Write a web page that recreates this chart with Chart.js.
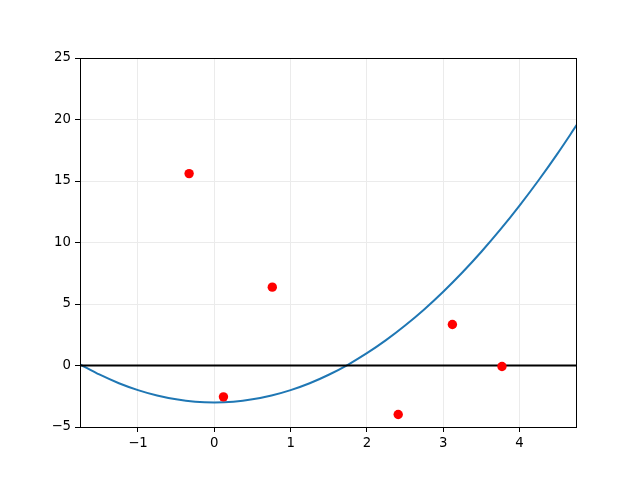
<!DOCTYPE html>
<html>
<head>
<meta charset="utf-8">
<script src="https://cdn.jsdelivr.net/npm/chart.js@4/dist/chart.umd.min.js"></script>
<style>
  html, body { margin: 0; padding: 0; background: #fff; }
  #wrap { width: 640px; height: 480px; }
</style>
</head>
<body>
<div id="wrap"><canvas id="chart" width="640" height="480"></canvas></div>
<script>
// Curve
const curveX = [-1.76, -1.5, -1.25, -1.0, -0.75, -0.5, -0.25, 0, 0.25, 0.5, 0.75, 1.0, 1.25,
                1.5, 1.75, 2.0, 2.25, 2.5, 2.75, 3.0, 3.25, 3.5, 3.75, 4.0, 4.25, 4.5, 4.75];
const curveY = [0.10, -0.75, -1.44, -2.0, -2.44, -2.75, -2.94, -3.0, -2.94, -2.75, -2.44, -2.0, -1.44,
                -0.75, 0.06, 1.0, 2.06, 3.25, 4.56, 6.0, 7.56, 9.25, 11.06, 13.0, 15.06, 17.25, 19.56];

// Red scatter points
const pointsX = [-0.33, 0.12, 0.76, 2.41, 3.12, 3.77];
const pointsY = [15.6, -2.55, 6.37, -3.98, 3.33, -0.08];

// Axis limits and ticks
const xMin = -1.76, xMax = 4.74;
const yMin = -5, yMax = 25;
const xTickValues = [-1, 0, 1, 2, 3, 4];
const yTickValues = [-5, 0, 5, 10, 15, 20, 25];
const zeroLineY = 0;

const fmt = v => (v < 0 ? '\u2212' + Math.abs(v) : String(v));

// Full box around the plot area, like matplotlib spines
const frame = {
    id: 'frame',
    afterDraw(chart) {
        const { ctx, chartArea: a } = chart;
        ctx.save();
        ctx.strokeStyle = '#000';
        ctx.lineWidth = 1;
        ctx.strokeRect(Math.round(a.left) + 0.5, Math.round(a.top) + 0.5,
                       Math.round(a.right - a.left), Math.round(a.bottom - a.top));
        ctx.restore();
    }
};

const tickFont = { family: 'DejaVu Sans', size: 13.3 };

new Chart(document.getElementById('chart'), {
    type: 'scatter',
    data: {
        datasets: [
            {
                label: 'points',
                data: pointsX.map((x, i) => ({ x, y: pointsY[i] })),
                backgroundColor: '#ff0000',
                borderColor: '#ff0000',
                pointRadius: 4.7,
                borderWidth: 0,
                order: 0
            },
            {
                label: 'zero',
                type: 'line',
                data: [{ x: xMin, y: zeroLineY }, { x: xMax, y: zeroLineY }],
                borderColor: '#000',
                borderWidth: 2,
                pointRadius: 0,
                fill: false,
                order: 1
            },
            {
                label: 'curve',
                type: 'line',
                data: curveX.map((x, i) => ({ x, y: curveY[i] })),
                borderColor: '#1f77b4',
                borderWidth: 2,
                pointRadius: 0,
                cubicInterpolationMode: 'monotone',
                fill: false,
                order: 2
            }
        ]
    },
    options: {
        responsive: false,
        animation: false,
        events: [],
        layout: { padding: { left: 0, right: 64, top: 58, bottom: 0 } },
        plugins: { legend: { display: false }, tooltip: { enabled: false } },
        scales: {
            x: {
                type: 'linear',
                min: xMin,
                max: xMax,
                afterBuildTicks: s => { s.ticks = xTickValues.map(v => ({ value: v })); },
                afterFit: s => { s.height = 53; },
                border: { display: false },
                grid: { color: '#ebebeb', lineWidth: 1, tickColor: '#000', tickLength: 5, drawTicks: true },
                ticks: { color: '#000', font: tickFont, padding: 4, maxRotation: 0, callback: v => fmt(v) }
            },
            y: {
                type: 'linear',
                min: yMin,
                max: yMax,
                afterBuildTicks: s => { s.ticks = yTickValues.map(v => ({ value: v })); },
                afterFit: s => { s.width = 80; },
                border: { display: false },
                grid: { color: '#ebebeb', lineWidth: 1, tickColor: '#000', tickLength: 5, drawTicks: true },
                ticks: { color: '#000', font: tickFont, padding: 4, callback: v => fmt(v) }
            }
        }
    },
    plugins: [frame]
});
</script>
</body>
</html>
